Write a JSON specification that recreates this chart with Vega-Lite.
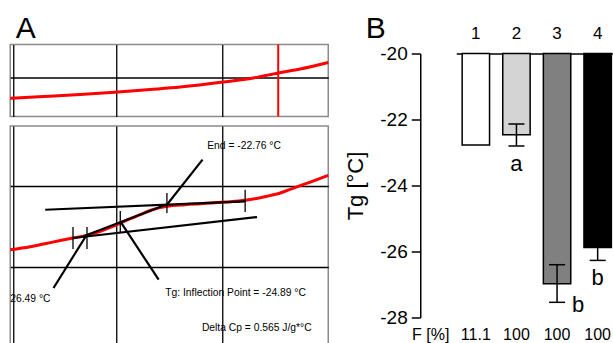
{
  "$schema": "https://vega.github.io/schema/vega-lite/v6.json",
  "padding": {"left": 3.25, "top": 11.5, "right": 0, "bottom": 0},
  "background": "white",
  "config": {
    "view": {"stroke": null},
    "font": "Liberation Sans",
    "locale": {"number": {"decimal": ".", "thousands": ",", "grouping": [3], "currency": ["$", ""], "minus": "-"}}
  },
  "datasets": {
    "curveTop": [
      {"T": -30, "h": -0.256}, {"T": -28.44, "h": -0.235}, {"T": -26.7, "h": -0.21}, {"T": -24.91, "h": -0.179},
      {"T": -23.4, "h": -0.148}, {"T": -21.98, "h": -0.117}, {"T": -19.95, "h": -0.056}, {"T": -18.54, "h": -0.006},
      {"T": -17.36, "h": 0.056}, {"T": -16.32, "h": 0.105}, {"T": -15, "h": 0.185}
    ],
    "cursor": [{"T": -17.36}],
    "curveBot": [
      {"T": -30.0, "h": 0.214}, {"T": -29.06, "h": 0.251}, {"T": -28.43, "h": 0.284}, {"T": -27.64, "h": 0.327},
      {"T": -27.04, "h": 0.358}, {"T": -26.38, "h": 0.391}, {"T": -25.75, "h": 0.441}, {"T": -25.28, "h": 0.488},
      {"T": -24.81, "h": 0.543}, {"T": -24.34, "h": 0.596}, {"T": -23.87, "h": 0.646}, {"T": -23.4, "h": 0.698},
      {"T": -22.61, "h": 0.749}, {"T": -21.75, "h": 0.769}, {"T": -21.04, "h": 0.781}, {"T": -19.86, "h": 0.802},
      {"T": -18.92, "h": 0.823}, {"T": -17.89, "h": 0.873}, {"T": -17.26, "h": 0.914}, {"T": -16.64, "h": 0.975},
      {"T": -15.85, "h": 1.049}, {"T": -15.0, "h": 1.132}
    ],
    "segs": [
      {"x1": -26.54, "y1": 0.379, "x2": -22.53, "y2": 0.781},
      {"x1": -27.96, "y1": -0.259, "x2": -26.42, "y2": 0.386},
      {"x1": -22.61, "y1": 0.769, "x2": -20.93, "y2": 1.325},
      {"x1": -24.81, "y1": 0.564, "x2": -23.0, "y2": -0.157},
      {"x1": -28.35, "y1": 0.707, "x2": -18.92, "y2": 0.811},
      {"x1": -27.04, "y1": 0.358, "x2": -18.36, "y2": 0.617}
    ],
    "marks": [
      {"T": -27.04, "lo": 0.222, "hi": 0.494}, {"T": -26.38, "lo": 0.222, "hi": 0.494},
      {"T": -24.81, "lo": 0.42, "hi": 0.691}, {"T": -22.61, "lo": 0.667, "hi": 0.914},
      {"T": -18.92, "lo": 0.679, "hi": 0.954}
    ],
    "notes": [
      {"t": "End = -22.76 °C", "T": -20.71, "v": 1.494},
      {"t": "26.49 °C", "T": -30, "v": -0.395},
      {"t": "Tg: Inflection Point = -24.89 °C", "T": -22.69, "v": -0.321},
      {"t": "Delta Cp = 0.565 J/g*°C", "T": -20.96, "v": -0.753}
    ],
    "bars": [
      {"g": "1", "v": -22.77, "F": "11.1"},
      {"g": "2", "v": -22.46, "lo": -22.8, "hi": -22.14, "F": "100", "lab": "a", "ly": -23.35},
      {"g": "3", "v": -26.98, "lo": -27.54, "hi": -26.4, "F": "100", "lab": "b", "ly": -27.61},
      {"g": "4", "v": -25.88, "lo": -26.27, "hi": -25.49, "F": "100", "lab": "b", "ly": -26.79}
    ]
  },
  "spacing": 9,
  "hconcat": [
    {
      "spacing": 6.5,
      "vconcat": [
        {
          "width": 318,
          "height": 72,
          "view": {"stroke": "#8c8c8c", "strokeWidth": 1.5},
          "layer": [
            {
              "data": {"name": "curveTop"},
              "mark": {"type": "line", "color": "#ff0000", "strokeWidth": 3, "interpolate": "monotone"},
              "encoding": {
                "x": {"field": "T", "type": "quantitative", "scale": {"domain": [-30, -15], "nice": false, "zero": false},
                      "axis": {"orient": "top", "values": [-29.85, -25, -20], "grid": true, "gridColor": "black", "gridWidth": 1.3, "gridOpacity": 1,
                               "domain": false, "ticks": false, "labels": false,
                               "title": "A", "titleX": 5, "titleY": -7.5, "titleAlign": "left", "titleBaseline": "alphabetic", "titleAngle": 0,
                               "titleFontSize": 30, "titleFontWeight": "normal", "titleColor": "black"}},
                "y": {"field": "h", "type": "quantitative", "scale": {"domain": [-0.481, 0.407], "nice": false, "zero": false},
                      "axis": {"values": [0], "grid": true, "gridColor": "black", "gridWidth": 1.3, "gridOpacity": 1, "domain": false, "ticks": false, "labels": false, "title": null}}
              }
            },
            {
              "data": {"name": "cursor"},
              "mark": {"type": "rule", "color": "#ff0000", "strokeWidth": 2},
              "encoding": {"x": {"field": "T", "type": "quantitative"}}
            }
          ]
        },
        {
          "width": 318,
          "height": 219,
          "view": {"stroke": "#8c8c8c", "strokeWidth": 1.5},
          "layer": [
            {
              "data": {"name": "curveBot"},
              "mark": {"type": "line", "color": "#ff0000", "strokeWidth": 3, "interpolate": "monotone"},
              "encoding": {
                "x": {"field": "T", "type": "quantitative", "scale": {"domain": [-30, -15], "nice": false, "zero": false},
                      "axis": {"values": [-29.85, -25, -20], "grid": true, "gridColor": "black", "gridWidth": 1.3, "gridOpacity": 1, "domain": false, "ticks": false, "labels": false, "title": null}},
                "y": {"field": "h", "type": "quantitative", "scale": {"domain": [-0.963, 1.741], "nice": false, "zero": false},
                      "axis": {"values": [0, 1], "grid": true, "gridColor": "black", "gridWidth": 1.3, "gridOpacity": 1, "domain": false, "ticks": false, "labels": false, "title": null}}
              }
            },
            {
              "data": {"name": "segs"},
              "mark": {"type": "rule", "color": "black", "strokeWidth": 2.2},
              "encoding": {
                "x": {"field": "x1", "type": "quantitative"},
                "y": {"field": "y1", "type": "quantitative"},
                "x2": {"field": "x2"},
                "y2": {"field": "y2"}
              }
            },
            {
              "data": {"name": "marks"},
              "mark": {"type": "rule", "color": "black", "strokeWidth": 1.3},
              "encoding": {
                "x": {"field": "T", "type": "quantitative"},
                "y": {"field": "lo", "type": "quantitative"},
                "y2": {"field": "hi"}
              }
            },
            {
              "data": {"name": "notes"},
              "mark": {"type": "text", "align": "left", "baseline": "middle", "font": "Liberation Sans", "fontSize": 10.3, "color": "black"},
              "encoding": {
                "x": {"field": "T", "type": "quantitative"},
                "y": {"field": "v", "type": "quantitative"},
                "text": {"field": "t"}
              }
            }
          ]
        }
      ]
    },
    {
      "vconcat": [
        {
          "width": 161,
          "height": 273,
          "data": {"name": "bars"},
          "resolve": {"axis": {"x": "independent"}},
          "layer": [
            {
              "mark": {"type": "bar", "stroke": "black", "strokeWidth": 1.5},
              "encoding": {
                "x": {"field": "g", "type": "nominal", "scale": {"paddingInner": 0.325, "paddingOuter": 0.145},
                      "axis": {"orient": "top", "offset": -9, "labelAngle": 0, "labelFontSize": 17, "labelColor": "black", "labelPadding": 19.4,
                               "tickSize": -8, "tickColor": "black", "tickWidth": 1.5, "domainColor": "black", "domainWidth": 1.5,
                               "title": "B", "titleX": -91, "titleY": -16.5, "titleAlign": "left", "titleBaseline": "alphabetic", "titleAngle": 0,
                               "titleFontSize": 30, "titleFontWeight": "normal", "titleColor": "black"}},
                "y": {"field": "v", "type": "quantitative", "scale": {"domain": [-28, -19.7273], "nice": false, "zero": false},
                      "axis": {"values": [-20, -22, -24, -26, -28], "offset": 36, "grid": false, "tickSize": 9, "tickColor": "black", "tickWidth": 1.5,
                               "domainColor": "black", "domainWidth": 1.5, "domainDash": [264, 100], "labelFontSize": 19, "labelColor": "black", "labelPadding": 4,
                               "title": "Tg [°C]", "titleX": -65, "titleY": 141, "titleAngle": -90, "titleAlign": "center", "titleBaseline": "middle",
                               "titleFontSize": 22, "titleFontWeight": "normal", "titleColor": "black"}},
                "y2": {"datum": -20},
                "color": {"field": "g", "type": "nominal", "scale": {"domain": ["1", "2", "3", "4"], "range": ["#ffffff", "#d4d4d4", "#808080", "#000000"]}, "legend": null}
              }
            },
            {
              "transform": [{"filter": "isValid(datum.lo)"}],
              "mark": {"type": "rule", "color": "black", "strokeWidth": 1.5},
              "encoding": {
                "x": {"field": "g", "type": "nominal", "axis": null},
                "y": {"field": "lo", "type": "quantitative"},
                "y2": {"field": "hi"}
              }
            },
            {
              "transform": [{"filter": "isValid(datum.lo)"}],
              "mark": {"type": "tick", "orient": "horizontal", "size": 16, "thickness": 1.5, "color": "black", "opacity": 1},
              "encoding": {
                "x": {"field": "g", "type": "nominal", "axis": null},
                "y": {"field": "lo", "type": "quantitative"}
              }
            },
            {
              "transform": [{"filter": "isValid(datum.hi)"}],
              "mark": {"type": "tick", "orient": "horizontal", "size": 16, "thickness": 1.5, "color": "black", "opacity": 1},
              "encoding": {
                "x": {"field": "g", "type": "nominal", "axis": null},
                "y": {"field": "hi", "type": "quantitative"}
              }
            },
            {
              "transform": [{"filter": "datum.g == '2' || datum.g == '4'"}],
              "mark": {"type": "text", "fontSize": 22, "baseline": "middle", "align": "center", "color": "black"},
              "encoding": {
                "x": {"field": "g", "type": "nominal", "axis": null},
                "y": {"field": "ly", "type": "quantitative"},
                "text": {"field": "lab"}
              }
            },
            {
              "transform": [{"filter": "datum.g == '3'"}],
              "mark": {"type": "text", "fontSize": 22, "baseline": "middle", "align": "center", "dx": 21, "color": "black"},
              "encoding": {
                "x": {"field": "g", "type": "nominal", "axis": null},
                "y": {"field": "ly", "type": "quantitative"},
                "text": {"field": "lab"}
              }
            },
            {
              "mark": {"type": "text", "fontSize": 16, "baseline": "middle", "align": "center", "dy": 17, "color": "black"},
              "encoding": {
                "x": {"field": "g", "type": "nominal",
                      "axis": {"orient": "bottom", "domain": false, "ticks": false, "labels": false, "title": "F [%]",
                               "titleX": -26, "titleY": 17, "titleAlign": "center", "titleBaseline": "middle", "titleAngle": 0,
                               "titleFontSize": 16, "titleFontWeight": "normal", "titleColor": "black"}},
                "y": {"datum": -28, "type": "quantitative"},
                "text": {"field": "F"}
              }
            }
          ]
        }
      ]
    }
  ]
}
